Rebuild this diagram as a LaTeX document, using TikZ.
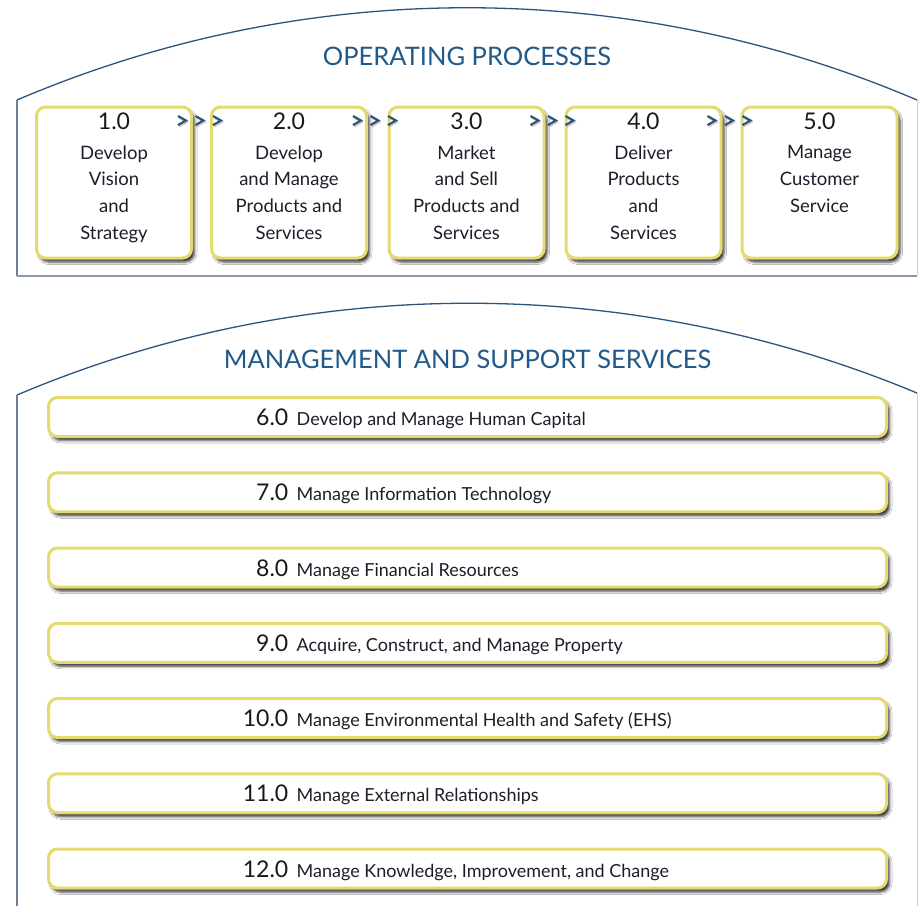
\documentclass[tikz,border=0pt]{standalone}
\usepackage{fontspec}
\setmainfont{Lato}
\usetikzlibrary{shadows.blur,calc}
\definecolor{titleblue}{HTML}{215A8A}
\definecolor{arcblue}{HTML}{2B557E}
\definecolor{sidegray}{HTML}{6E7F96}
\definecolor{boxyellow}{HTML}{E4DA70}
\definecolor{txtdark}{HTML}{1E1E2A}
\definecolor{chevblue}{HTML}{2E5278}
\begin{document}
\begin{tikzpicture}[x=1pt,y=-1pt,
  procbox/.style={draw=boxyellow, line width=3pt, fill=white, rounded corners=9pt,
    minimum width=155pt, minimum height=151pt, inner sep=0pt,
    blur shadow={shadow xshift=3pt, shadow yshift=-4pt, shadow blur radius=2.5pt, shadow opacity=80}},
  barbox/.style={draw=boxyellow, line width=3pt, fill=white, rounded corners=9pt,
    minimum width=838pt, minimum height=39pt, inner sep=0pt,
    blur shadow={shadow xshift=3pt, shadow yshift=-4pt, shadow blur radius=2.5pt, shadow opacity=80}},
  numtxt/.style={font=\fontsize{23}{23}\selectfont, text=black!90, inner sep=0pt},
  bodytxt/.style={font=\fontsize{18.5}{26.6}\selectfont, text=txtdark, inner sep=0pt, align=center, anchor=north},
  bartxt/.style={font=\fontsize{18}{20}\selectfont, text=txtdark, inner sep=0pt, anchor=base west},
  titletxt/.style={font=\fontsize{25.5}{30}\selectfont, text=titleblue, inner sep=0pt, anchor=base},
  arcline/.style={draw=arcblue, line width=1.3pt},
  panelside/.style={draw=sidegray, line width=1.2pt},
  panelfaint/.style={draw=black!18, line width=1pt},
  chevline/.style={draw=chevblue, line width=2.1pt, line join=miter},
  chevshadow/.style={draw=black!40, line width=2pt, opacity=0.5},
  chevron/.pic={
    \draw[chevshadow] (-3,-3) -- (5,1.5) -- (-3,6);
    \draw[chevline] (-4,-4.5) -- (4,0) -- (-4,4.5);
  }
]
\useasboundingbox (0,0) rectangle (918,906);
\fill[white] (0,0) rectangle (918,906);

% ---------- operating processes panel ----------
\draw[arcline] (17,100) .. controls (305,-23) and (629,-23) .. (917,100);
\draw[panelside] (17,100) -- (17,276);
\draw[panelfaint] (917,100) -- (917,276);
\draw[draw=sidegray!80, line width=1.6pt] (17,276) -- (917,276);
\node[titletxt] (t1) at (467,65) {OPERATING PROCESSES};

\node[procbox] (b1) at (114,182.5) {};
\node[procbox] (b2) at (289,182.5) {};
\node[procbox] (b3) at (466.5,182.5) {};
\node[procbox] (b4) at (643.5,182.5) {};
\node[procbox] (b5) at (819.5,182.5) {};

\foreach \b/\n/\t in {b1/1.0/{Develop\\Vision\\and\\Strategy},
                      b2/2.0/{Develop\\and Manage\\Products and\\Services},
                      b3/3.0/{Market\\and Sell\\Products and\\Services},
                      b4/4.0/{Deliver\\Products\\and\\Services},
                      b5/5.0/{Manage\\Customer\\Service}}{
  \node[numtxt, anchor=base] (\b n) at ($(\b.north)+(0,24)$) {\n};
  \node[bodytxt] (\b t) at ($(\b.north)+(0,40)$) {\t};
}

\foreach \b in {b1,b2,b3,b4}{
  \pic at ($(\b.north east)+(-11,15)$) {chevron};
  \pic at ($(\b.north east)+(6.5,15)$) {chevron};
  \pic at ($(\b.north east)+(24,15)$) {chevron};
}

% ---------- management and support panel ----------
\draw[arcline] (17,395) .. controls (305,273) and (629,273) .. (917,393);
\draw[panelside] (17,395) -- (17,906);
\draw[panelfaint] (917,393) -- (917,906);
\node[titletxt] (t2) at (467.5,368) {MANAGEMENT AND SUPPORT SERVICES};

\foreach \i/\n/\t in {0/6.0/Develop and Manage Human Capital,
                      1/7.0/Manage Information Technology,
                      2/8.0/Manage Financial Resources,
                      3/9.0/{Acquire, Construct, and Manage Property},
                      4/10.0/Manage Environmental Health and Safety (EHS),
                      5/11.0/Manage External Relationships,
                      6/12.0/{Manage Knowledge, Improvement, and Change}}{
  \node[barbox] (s\i) at (467.5,417+75.25*\i) {};
  \node[numtxt, anchor=base east] (s\i n) at ($(s\i.west)+(241.5,8.5)$) {\n};
  \node[bartxt] (s\i t) at ($(s\i.west)+(249.5,8.5)$) {\t};
}
\end{tikzpicture}
\end{document}
